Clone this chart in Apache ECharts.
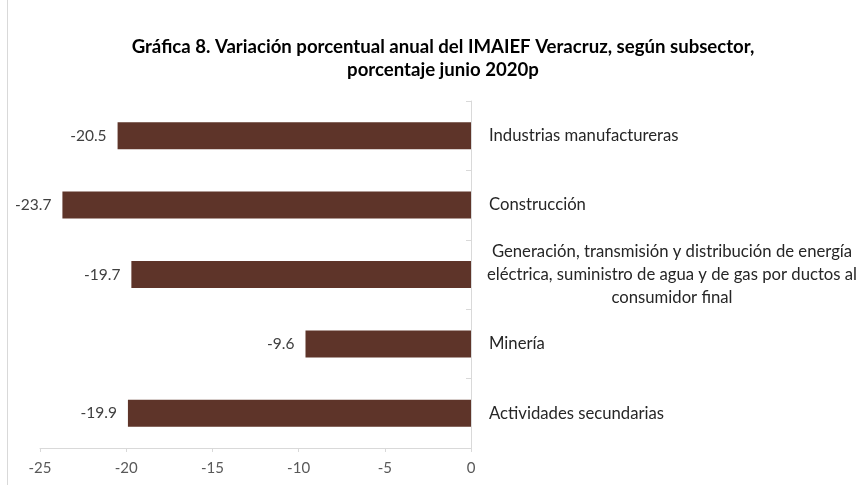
<!DOCTYPE html>
<html>
<head>
<meta charset="utf-8">
<script src="https://cdn.jsdelivr.net/npm/echarts@6/dist/echarts.min.js"></script>
<style>
  html, body { margin: 0; padding: 0; background: #fff; }
  #chart { width: 863px; height: 485px; }
</style>
</head>
<body>
<div id="chart"></div>
<script>
// datos de la gráfica (de arriba hacia abajo)
const subsectores = [
  'Industrias manufactureras',
  'Construcción',
  'Generación, transmisión y distribución de energía\neléctrica, suministro de agua y de gas por ductos al\nconsumidor final',
  'Minería',
  'Actividades secundarias'
]
const variacion = [-20.5, -23.7, -19.7, -9.6, -19.9]
const ticksX = [-25, -20, -15, -10, -5, 0]

const FONT = 'Lato'
const chart = echarts.init(document.getElementById('chart'))

const option = {
  animation: false,
  backgroundColor: '#fff',
  textStyle: { fontFamily: FONT },
  title: {
    text: 'Gráfica 8. Variación porcentual anual del IMAIEF Veracruz, según subsector,\nporcentaje junio 2020p',
    left: 438,
    top: 30,
    textAlign: 'center',
    textStyle: { fontFamily: FONT, fontSize: 18.6, fontWeight: 'bold', color: '#000', lineHeight: 23 }
  },
  graphic: [
    // borde izquierdo del marco
    { type: 'line', shape: { x1: 7.5, y1: 0, x2: 7.5, y2: 485 }, style: { stroke: '#d9d9d9', lineWidth: 1 } }
  ],
  grid: { left: 40, right: 392, top: 101, bottom: 37 },
  xAxis: {
    type: 'value',
    min: ticksX[0],
    max: ticksX[ticksX.length - 1],
    interval: 5,
    axisLine: { show: true, lineStyle: { color: '#d9d9d9' } },
    axisTick: { show: true, length: 4, lineStyle: { color: '#d9d9d9' } },
    splitLine: { show: false },
    axisLabel: { color: '#595959', fontSize: 15, margin: 13, fontFamily: FONT }
  },
  yAxis: {
    type: 'category',
    position: 'right',
    data: subsectores,
    inverse: true,
    axisLine: { show: true, lineStyle: { color: '#d9d9d9' } },
    axisTick: { show: true, inside: true, length: 5, lineStyle: { color: '#d9d9d9' } },
    axisLabel: {
      margin: 18,
      color: '#262626',
      fontSize: 16.7,
      fontFamily: FONT,
      formatter: function (v) {
        if (v.indexOf('\n') < 0) return v
        return v.split('\n').map(l => '{c|' + l + '}').join('\n')
      },
      rich: {
        c: { width: 366, align: 'center', fontSize: 16.7, lineHeight: 23, color: '#262626', fontFamily: FONT }
      }
    }
  },
  series: [
    {
      type: 'bar',
      data: variacion,
      barWidth: 27,
      itemStyle: { color: '#5e3429' },
      label: {
        show: true,
        position: 'left',
        distance: 11,
        color: '#404040',
        fontSize: 15.5,
        fontFamily: FONT,
        formatter: p => p.value.toFixed(1)
      }
    }
  ]
}

chart.setOption(option)
</script>
</body>
</html>
